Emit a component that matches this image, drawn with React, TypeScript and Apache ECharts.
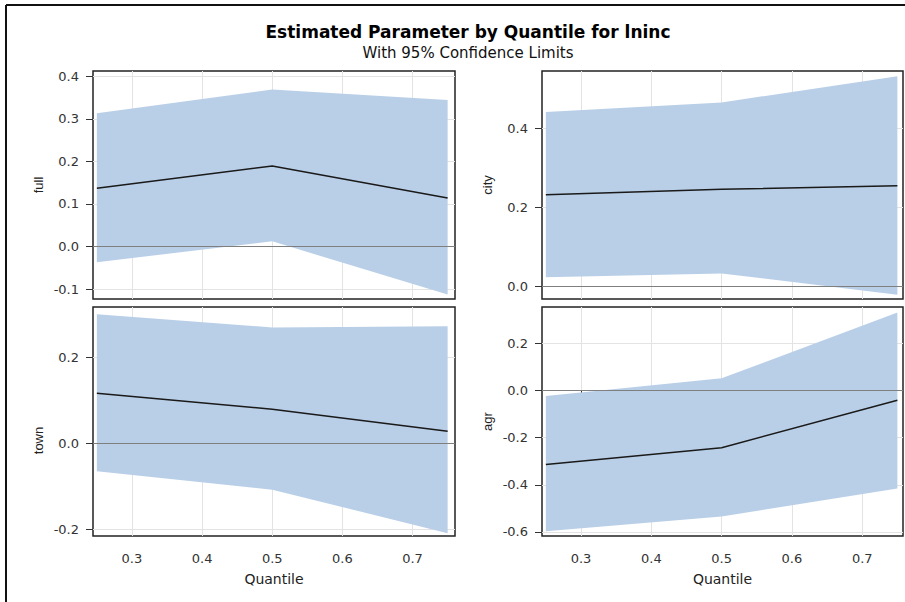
import React, { useEffect, useRef } from "react";
import * as echarts from "echarts";

// ---- data ----
const quantiles = [0.25, 0.5, 0.75];
const xTicks = [0.3, 0.4, 0.5, 0.6, 0.7];

const fullEst = [0.137, 0.189, 0.114];
const fullLower = [-0.037, 0.012, -0.113];
const fullUpper = [0.313, 0.369, 0.344];
const fullTicks = [-0.1, 0.0, 0.1, 0.2, 0.3, 0.4];

const cityEst = [0.232, 0.246, 0.255];
const cityLower = [0.023, 0.033, -0.021];
const cityUpper = [0.442, 0.466, 0.532];
const cityTicks = [0.0, 0.2, 0.4];

const townEst = [0.116, 0.079, 0.028];
const townLower = [-0.065, -0.108, -0.209];
const townUpper = [0.3, 0.269, 0.272];
const townTicks = [-0.2, 0.0, 0.2];

const agrEst = [-0.314, -0.243, -0.042];
const agrLower = [-0.597, -0.534, -0.416];
const agrUpper = [-0.024, 0.051, 0.33];
const agrTicks = [-0.6, -0.4, -0.2, 0.0, 0.2];

const titleText = "Estimated Parameter by Quantile for lninc";
const subtitleText = "With 95% Confidence Limits";
const xName = "Quantile";

type Panel = {
  name: string;
  est: number[];
  lower: number[];
  upper: number[];
  ticks: number[];
  yMin: number;
  yMax: number;
  xMin: number;
  xMax: number;
  showX: boolean;
};

const panels: Panel[] = [
  { name: "full", est: fullEst, lower: fullLower, upper: fullUpper, ticks: fullTicks, yMin: -0.1235, yMax: 0.4124, xMin: 0.2445, xMax: 0.7605, showX: false },
  { name: "city", est: cityEst, lower: cityLower, upper: cityUpper, ticks: cityTicks, yMin: -0.0318, yMax: 0.5455, xMin: 0.2445, xMax: 0.758, showX: false },
  { name: "town", est: townEst, lower: townLower, upper: townUpper, ticks: townTicks, yMin: -0.2156, yMax: 0.3166, xMin: 0.2445, xMax: 0.7605, showX: true },
  { name: "agr", est: agrEst, lower: agrLower, upper: agrUpper, ticks: agrTicks, yMin: -0.617, yMax: 0.353, xMin: 0.2445, xMax: 0.758, showX: true },
];

// ---- layout ----
const gridBoxes = [
  { left: 93, top: 71, width: 362, height: 228 },
  { left: 542, top: 71, width: 361, height: 228 },
  { left: 93, top: 307, width: 362, height: 229 },
  { left: 542, top: 307, width: 361, height: 229 },
];
// extra right padding (local frame) on rotated y-axis names, shifts the label downward
const namePadRight = [0, 0, 38, 0];

const SANS = "DejaVu Sans";
const ARIAL = "Liberation Sans";
const BAND = "#b9cfe7";

export default function App() {
  const ref = useRef<HTMLDivElement>(null);

  useEffect(() => {
    if (!ref.current) return;
    const chart = echarts.init(ref.current, undefined, { renderer: "svg" });

    const grids = gridBoxes.map((g) => ({
      ...g,
      show: true,
      borderColor: "#222",
      borderWidth: 1.5,
      backgroundColor: "transparent",
      containLabel: false,
    }));

    const xAxes = panels.map((p, i) => ({
      type: "value",
      gridIndex: i,
      min: p.xMin,
      max: p.xMax,
      name: p.showX ? xName : "",
      nameLocation: "middle",
      nameGap: 36,
      nameTextStyle: { fontFamily: SANS, fontSize: 14, color: "#222" },
      axisLine: { show: false },
      axisTick: {
        show: p.showX,
        length: 6,
        lineStyle: { color: "#333" },
        customValues: xTicks,
      },
      axisLabel: {
        show: p.showX,
        margin: 16,
        fontFamily: SANS,
        fontSize: 13,
        color: "#333",
        customValues: xTicks,
        formatter: (v: number) => v.toFixed(1),
      },
      splitLine: { show: true, lineStyle: { color: "#e3e3e3", width: 1 } },
    }));

    const yAxes = panels.map((p, i) => ({
      type: "value",
      gridIndex: i,
      min: p.yMin,
      max: p.yMax,
      name: p.name,
      nameLocation: "middle",
      nameGap: 48,
      nameRotate: 90,
      nameTextStyle: {
        fontFamily: ARIAL,
        fontSize: 13,
        color: "#222",
        padding: [0, namePadRight[i], 0, 0],
      },
      axisLine: { show: false },
      axisTick: {
        show: true,
        length: 7,
        lineStyle: { color: "#333" },
        customValues: p.ticks,
      },
      axisLabel: {
        show: true,
        margin: 14,
        fontFamily: SANS,
        fontSize: 13,
        color: "#333",
        customValues: p.ticks,
        formatter: (v: number) => v.toFixed(1),
      },
      splitLine: { show: true, lineStyle: { color: "#e3e3e3", width: 1 } },
    }));

    const series: any[] = [];
    panels.forEach((p, i) => {
      series.push({
        type: "custom",
        xAxisIndex: i,
        yAxisIndex: i,
        z: 2,
        clip: true,
        data: quantiles.map((q, k) => [q, p.lower[k], p.upper[k]]),
        encode: { x: 0, y: [1, 2] },
        renderItem: (params: any, api: any) => {
          if (params.dataIndex !== 0) return null;
          const pts: number[][] = [];
          quantiles.forEach((q, k) => pts.push(api.coord([q, p.upper[k]])));
          for (let k = quantiles.length - 1; k >= 0; k--) {
            pts.push(api.coord([quantiles[k], p.lower[k]]));
          }
          return {
            type: "polygon",
            shape: { points: pts },
            style: { fill: BAND, stroke: null },
          };
        },
      });
      series.push({
        type: "line",
        xAxisIndex: i,
        yAxisIndex: i,
        z: 4,
        data: [],
        markLine: {
          silent: true,
          symbol: "none",
          label: { show: false },
          lineStyle: { color: "#7f7f7f", width: 1, type: "solid" },
          data: [{ yAxis: 0 }],
        },
      });
      series.push({
        type: "line",
        xAxisIndex: i,
        yAxisIndex: i,
        z: 5,
        showSymbol: false,
        symbol: "none",
        data: quantiles.map((q, k) => [q, p.est[k]]),
        lineStyle: { color: "#1a1a1a", width: 1.5 },
      });
    });

    chart.setOption({
      animation: false,
      backgroundColor: "#ffffff",
      title: [
        {
          text: titleText,
          left: 463,
          top: 18,
          textAlign: "center",
          textStyle: { fontFamily: SANS, fontSize: 17, fontWeight: "bold", color: "#000" },
        },
        {
          text: subtitleText,
          left: 463,
          top: 40,
          textAlign: "center",
          textStyle: { fontFamily: SANS, fontSize: 15, fontWeight: "normal", color: "#111" },
        },
      ],
      graphic: [
        { type: "line", shape: { x1: 6, y1: 5, x2: 905, y2: 5 }, style: { stroke: "#111", lineWidth: 2 }, silent: true },
        { type: "line", shape: { x1: 6, y1: 5, x2: 6, y2: 602 }, style: { stroke: "#111", lineWidth: 2 }, silent: true },
      ],
      grid: grids,
      xAxis: xAxes,
      yAxis: yAxes,
      series,
    });

    return () => chart.dispose();
  }, []);

  return (
    <div
      ref={ref}
      style={{ position: "fixed", left: 0, top: 0, width: 905, height: 602, background: "#fff" }}
    />
  );
}
